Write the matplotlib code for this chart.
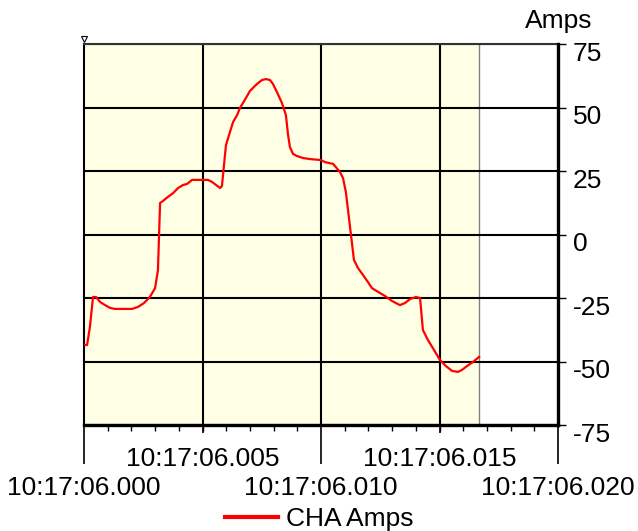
import matplotlib
matplotlib.use('Agg')
import matplotlib.pyplot as plt
from matplotlib.ticker import MultipleLocator
from matplotlib.transforms import ScaledTranslation

plt.rcParams['font.family'] = ['Liberation Sans', 'DejaVu Sans']

#time in ms after 10:17:06.000, and current readings in Amps
t_ms = [0.0, 0.13, 0.25, 0.38, 0.51, 0.68, 0.89, 1.10, 1.31, 2.03, 2.28, 2.53,
        2.78, 3.00, 3.12, 3.21, 3.33, 3.54, 3.76, 3.97, 4.18, 4.35, 4.56, 5.23,
        5.40, 5.57, 5.74, 5.82, 5.99, 6.16, 6.29, 6.46, 6.58, 6.71, 6.88, 7.00,
        7.17, 7.34, 7.51, 7.68, 7.85, 7.97, 8.14, 8.35, 8.52, 8.61, 8.69, 8.82,
        8.99, 9.24, 9.54, 10.00, 10.17, 10.51, 10.80, 10.93, 11.05, 11.39, 11.56,
        11.77, 11.98, 12.15, 12.41, 12.70, 13.00, 13.33, 13.54, 13.76, 14.01,
        14.18, 14.30, 14.51, 14.77, 15.02, 15.27, 15.53, 15.78, 15.95, 16.16,
        16.41, 16.67]
cha_amps = [-43.5, -43.5, -36.4, -24.6, -24.6, -26.6, -27.8, -28.9, -29.3, -29.3,
            -28.5, -27.0, -24.6, -21.1, -14.0, 12.4, 13.2, 14.8, 16.3, 18.3, 19.5,
            19.9, 21.5, 21.5, 20.7, 19.5, 18.3, 19.1, 35.2, 40.4, 44.3, 47.0, 49.8,
            51.8, 54.5, 56.5, 58.1, 59.6, 60.8, 61.2, 60.8, 59.3, 56.1, 51.8, 47.0,
            39.2, 34.4, 31.7, 30.9, 30.1, 29.7, 29.3, 28.5, 27.8, 24.6, 22.2, 16.7,
            -10.0, -13.2, -15.9, -18.7, -21.1, -22.6, -24.2, -26.2, -27.8, -27.0,
            -25.4, -24.6, -25.0, -37.6, -41.5, -45.5, -49.4, -51.8, -53.7, -54.1,
            -53.3, -51.8, -50.2, -48.2]

#tick labels
y_ticks = [75, 50, 25, 0, -25, -50, -75]
y_labels = ['75', '50', '25', '0', '-25', '-50', '-75']
x_ticks_low = [0, 10, 20]
x_labels_low = ['10:17:06.000', '10:17:06.010', '10:17:06.020']
x_ticks_high = [5, 15]
x_labels_high = ['10:17:06.005', '10:17:06.015']

FS = 19

fig = plt.figure(figsize=(6.38, 5.31), dpi=100)
ax = fig.add_axes([84/638, 1 - 425/531, 474/638, 381/531])

#shaded area where there is data, ends with a grey line
ax.axvspan(t_ms[0], t_ms[-1], color='#FFFFE6', zorder=0, lw=0)
ax.axvline(t_ms[-1], color='#808080', lw=1, zorder=1)

ax.plot(t_ms, cha_amps, color='red', lw=1.6, label='CHA Amps', zorder=3)

ax.set_xlim(0, 20)
ax.set_ylim(-75, 75)

#grid lines
for y in y_ticks:
    ax.axhline(y, color='black', lw=1.5, zorder=2)
for x in [5, 10, 15]:
    ax.axvline(x, color='black', lw=1.5, zorder=2)

#right y axis, labels hang below their tick
ax.yaxis.tick_right()
ax.set_yticks(y_ticks, labels=y_labels)
ax.tick_params(axis='y', direction='out', length=6, width=1, labelsize=FS, pad=4.5)
for lab in ax.get_yticklabels():
    lab.set_va('top')
    lab.set_transform(lab.get_transform() + ScaledTranslation(0, 1.5/72, fig.dpi_scale_trans))

#bottom x axis: long ticks with the lower labels, minor ticks each ms
ax.set_xticks(x_ticks_low, labels=x_labels_low)
ax.xaxis.set_minor_locator(MultipleLocator(1))
ax.tick_params(axis='x', which='major', direction='out', length=28, width=1.2,
               labelsize=FS, pad=8.7)
ax.tick_params(axis='x', which='minor', direction='out', length=4, width=1)

#second row of labels for 005 and 015
sec = ax.secondary_xaxis('bottom')
sec.set_xticks(x_ticks_high, labels=x_labels_high)
sec.tick_params(axis='x', direction='out', length=5.5, width=1.2, labelsize=FS, pad=10)
sec.spines['bottom'].set_visible(False)

for side in ['left', 'top']:
    ax.spines[side].set_linewidth(1.5)
ax.spines['top'].set_color('#333333')
for side in ['bottom', 'right']:
    ax.spines[side].set_linewidth(2.4)
    ax.spines[side].set_zorder(4)

#small cursor marker at top-left
ax.plot([0], [77], marker='v', ms=5, mfc='white', mec='black', mew=0.8,
        clip_on=False, zorder=5)

fig.text(592/638, 1 - 28/531, 'Amps', ha='right', va='baseline', fontsize=FS)

leg = fig.legend(loc='center', bbox_to_anchor=(319/638, 1 - 519/531), frameon=False,
                 fontsize=FS, handlelength=2.0, handletextpad=0.3, borderpad=0,
                 borderaxespad=0)
leg.get_lines()[0].set_linewidth(3)

fig.savefig('out.png', dpi=100)
